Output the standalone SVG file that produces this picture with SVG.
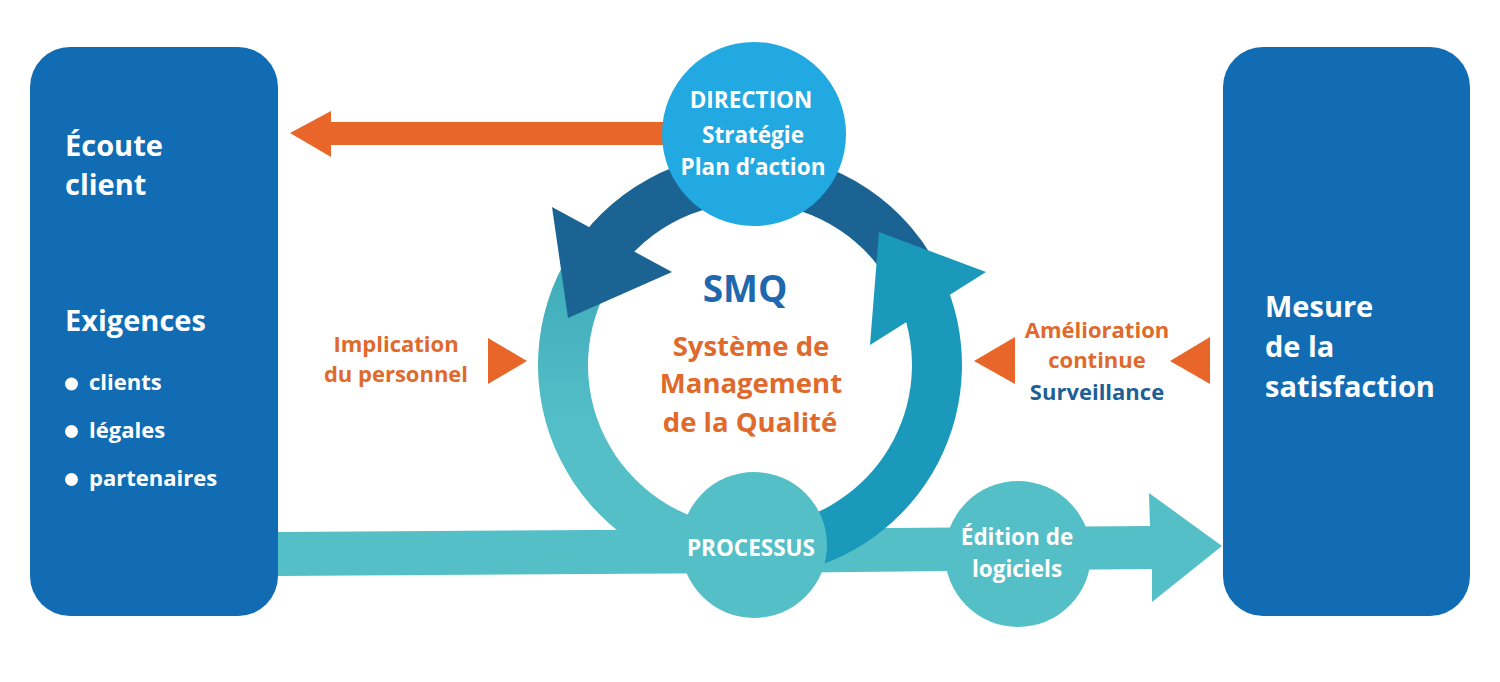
<svg xmlns="http://www.w3.org/2000/svg" width="1500" height="682" viewBox="0 0 1500 682">
<defs>
<style>
text{font-family:"Open Sans","Noto Sans","Liberation Sans",sans-serif;font-weight:700}
.w{fill:#ffffff}
.o{fill:#e0692c}
.box{fill:#126cb4}
.teal{fill:#55bfc8}
.orange{fill:#e8662a}
.c{text-anchor:middle}
</style>
<linearGradient id="gLeft" gradientUnits="userSpaceOnUse" x1="0" y1="250" x2="0" y2="430">
<stop offset="0" stop-color="#3eaab9"/>
<stop offset="1" stop-color="#55bfc8"/>
</linearGradient>
</defs>
<rect width="1500" height="682" fill="#ffffff"/>

<g id="connectors">
<polygon class="teal" points="278,532 754,529 754,573 278,576"/>
<polygon class="teal" points="754,529 1150,526 1149,493 1222,546 1152,602 1152,569 754,573"/>
<path fill="url(#gLeft)" d="M570.2,252.7 A212,212 0 0 0 731.5,576.2 L735.9,526.4 A162,162 0 0 1 612.6,279.2 Z"/>
<path fill="#1a99bb" d="M786.8,573.8 A212,212 0 0 0 942.1,275.4 L896.8,296.5 A162,162 0 0 1 778.1,524.5 Z"/>
<path fill="#1b6393" d="M942.1,275.4 A212,212 0 0 0 566.4,259 L609.7,284 A162,162 0 0 1 896.8,296.5 Z"/>
<polygon fill="#1b6393" points="552,207 672,272 568,318"/>
<polygon fill="#1a99bb" points="879,232 986,272 870,345"/>
<polygon class="orange" points="700,122 331,122 331,111 290,133 331,157 331,145 700,145"/>
<polygon class="orange" points="488,338 527,361 488,384"/>
<polygon class="orange" points="1015,337 974,361 1015,384"/>
<polygon class="orange" points="1210,337 1170,361 1210,384"/>
</g>

<g id="node-ecoute">
<rect class="box" x="30" y="47" width="248" height="569" rx="40" ry="40"/>
<text class="w" x="65" y="156" font-size="29">Écoute</text>
<text class="w" x="65" y="195" font-size="29">client</text>
<text class="w" x="65" y="331" font-size="29">Exigences</text>
<circle class="w" cx="71.5" cy="384" r="6.5"/>
<circle class="w" cx="71.5" cy="431.5" r="6.5"/>
<circle class="w" cx="71.5" cy="479.5" r="6.5"/>
<text class="w" x="89" y="390" font-size="22">clients</text>
<text class="w" x="89" y="438" font-size="22">légales</text>
<text class="w" x="89" y="486" font-size="22">partenaires</text>
</g>

<g id="node-mesure">
<rect class="box" x="1223" y="47" width="247" height="569" rx="40" ry="40"/>
<text class="w" x="1265" y="317" font-size="29">Mesure</text>
<text class="w" x="1265" y="357" font-size="29">de la</text>
<text class="w" x="1265" y="397" font-size="29">satisfaction</text>
</g>

<g id="node-direction">
<circle cx="754" cy="134" r="92" fill="#22a9e1"/>
<text class="w c" x="751" y="108" font-size="22.5">DIRECTION</text>
<text class="w c" x="753" y="143" font-size="22.5">Stratégie</text>
<text class="w c" x="753" y="175" font-size="22.5">Plan d’action</text>
</g>

<g id="node-processus">
<circle class="teal" cx="754" cy="545" r="73"/>
<text class="w c" x="751" y="556" font-size="22.5">PROCESSUS</text>
</g>

<g id="node-edition">
<circle class="teal" cx="1018" cy="554" r="73"/>
<text class="w c" x="1017" y="545" font-size="22.5">Édition de</text>
<text class="w c" x="1017" y="577" font-size="22.5">logiciels</text>
</g>

<g id="node-smq">
<text class="c" x="745" y="302" font-size="37" fill="#1f68ad">SMQ</text>
<text class="o c" x="751" y="356" font-size="27.5">Système de</text>
<text class="o c" x="751" y="393" font-size="27.5">Management</text>
<text class="o c" x="750" y="432" font-size="27.5">de la Qualité</text>
</g>

<g id="label-implication">
<text class="o c" x="396" y="352" font-size="22">Implication</text>
<text class="o c" x="396" y="382" font-size="22">du personnel</text>
</g>

<g id="label-amelioration">
<text class="o c" x="1097" y="338" font-size="22">Amélioration</text>
<text class="o c" x="1097" y="368" font-size="22">continue</text>
<text class="c" x="1097" y="400" font-size="22" fill="#1f5f96">Surveillance</text>
</g>
</svg>
